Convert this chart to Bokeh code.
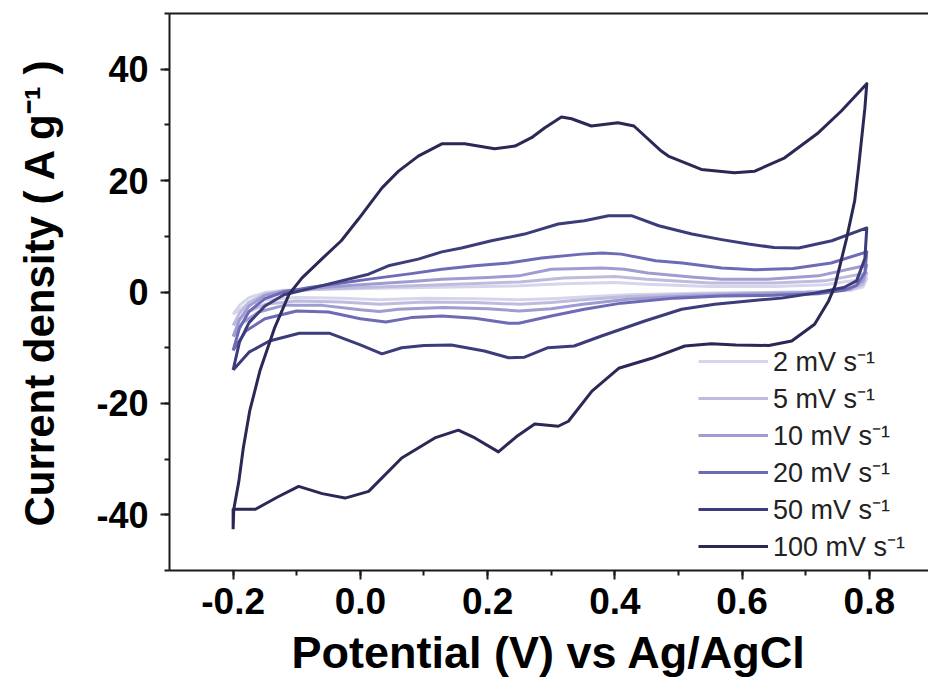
from bokeh.plotting import figure
from bokeh.models import LinearAxis, Range1d, Legend, LegendItem, SingleIntervalTicker, FixedTicker
from bokeh.embed import file_html
from bokeh.resources import INLINE

# ---- data: potential (V vs Ag/AgCl) and current density (A/g), closed CV loops ----
scan_labels = ["2 mV s⁻¹", "5 mV s⁻¹", "10 mV s⁻¹", "20 mV s⁻¹", "50 mV s⁻¹", "100 mV s⁻¹"]
colors = ["#d6d5ec", "#bdbcdf", "#9e9cd0", "#6d6bb5", "#3d3c7a", "#2a2956"]

v_2 = [-0.2, -0.19, -0.175, -0.15, -0.12, -0.05, 0.05, 0.15, 0.25, 0.32, 0.4, 0.45, 0.55, 0.65, 0.73, 0.796,
       0.79, 0.77, 0.7, 0.55, 0.42, 0.35, 0.3, 0.25, 0.18, 0.1, 0.03, -0.03, -0.1, -0.15, -0.18, -0.2]
i_2 = [-4.0, -2.4, -1.0, -0.1, 0.3, 0.5, 0.7, 0.9, 1.1, 1.5, 1.7, 1.4, 1.0, 1.0, 1.3, 2.4,
       0.9, 0.3, 0.0, -0.2, -0.5, -0.9, -1.2, -1.4, -1.2, -1.1, -1.4, -1.1, -1.0, -1.4, -2.4, -4.0]

v_5 = [-0.2, -0.19, -0.175, -0.15, -0.12, -0.05, 0.05, 0.15, 0.25, 0.32, 0.4, 0.45, 0.55, 0.65, 0.73, 0.796,
       0.79, 0.77, 0.7, 0.55, 0.42, 0.35, 0.3, 0.25, 0.18, 0.1, 0.03, -0.03, -0.1, -0.15, -0.18, -0.2]
i_5 = [-6.0, -3.8, -1.8, -0.4, 0.2, 0.6, 1.0, 1.4, 1.8, 2.5, 2.8, 2.3, 1.6, 1.6, 2.0, 3.4,
       1.4, 0.4, 0.0, -0.3, -0.8, -1.4, -1.9, -2.2, -1.9, -1.8, -2.2, -1.8, -1.6, -2.2, -3.8, -6.0]

v_10 = [-0.2, -0.19, -0.175, -0.15, -0.12, -0.05, 0.0, 0.08, 0.128, 0.2, 0.249, 0.3, 0.38, 0.415, 0.452, 0.52,
        0.568, 0.64, 0.72, 0.796,
        0.79, 0.77, 0.72, 0.6, 0.5, 0.42, 0.35, 0.3, 0.25, 0.2, 0.13, 0.06, 0.03, 0.0, -0.06, -0.12, -0.16,
        -0.185, -0.2]
i_10 = [-8.0, -5.0, -2.5, -0.6, 0.2, 0.9, 1.3, 1.9, 2.3, 2.6, 2.9, 4.1, 4.3, 4.1, 3.4, 2.7,
        2.3, 2.3, 2.9, 4.8,
        2.0, 0.6, -0.1, -0.4, -0.8, -1.3, -2.2, -3.0, -3.4, -3.0, -2.8, -3.1, -3.5, -3.2, -2.4, -2.4, -3.6,
        -5.5, -8.0]

v_20 = [-0.2, -0.19, -0.175, -0.15, -0.12, -0.08, -0.03, 0.02, 0.08, 0.128, 0.18, 0.233, 0.285, 0.348, 0.38,
        0.41, 0.464, 0.506, 0.568, 0.62, 0.68, 0.74, 0.796,
        0.793, 0.78, 0.76, 0.72, 0.65, 0.568, 0.494, 0.41, 0.352, 0.3, 0.249, 0.233, 0.18, 0.128, 0.08, 0.04,
        0.0, -0.05, -0.1, -0.15, -0.18, -0.2]
i_20 = [-10.5, -6.5, -3.5, -1.2, 0.0, 0.8, 1.6, 2.4, 3.3, 4.1, 4.7, 5.2, 6.1, 6.8, 7.0,
        6.8, 5.6, 5.2, 4.3, 4.0, 4.2, 5.2, 7.2,
        3.5, 1.2, 0.3, -0.3, -0.6, -0.7, -1.1, -2.0, -3.1, -4.3, -5.6, -5.6, -4.7, -4.3, -4.6, -5.4,
        -4.8, -3.6, -3.4, -4.8, -7.0, -10.5]

v_50 = [-0.2, -0.19, -0.175, -0.15, -0.12, -0.076, -0.03, 0.013, 0.044, 0.091, 0.128, 0.159, 0.206, 0.258,
        0.311, 0.352, 0.39, 0.426, 0.469, 0.521, 0.568, 0.61, 0.65, 0.689, 0.741, 0.796,
        0.793, 0.78, 0.76, 0.746, 0.714, 0.662, 0.61, 0.557, 0.505, 0.447, 0.379, 0.336, 0.295, 0.258, 0.233,
        0.195, 0.143, 0.1, 0.065, 0.034, 0.0, -0.049, -0.096, -0.143, -0.175, -0.2]
i_50 = [-14.0, -9.0, -5.5, -2.5, -0.5, 0.7, 2.0, 3.2, 4.7, 5.9, 7.2, 7.9, 9.2, 10.4,
        12.2, 12.8, 13.7, 13.7, 11.9, 10.4, 9.4, 8.6, 8.0, 7.9, 9.2, 11.5,
        6.0, 2.0, 0.8, 0.5, -0.2, -1.1, -1.6, -2.2, -3.1, -5.2, -7.9, -9.7, -10.0, -11.7, -11.8,
        -10.6, -9.5, -9.6, -10.0, -11.1, -9.5, -7.4, -7.4, -8.8, -10.8, -14.0]

v_100 = [-0.2, -0.199, -0.191, -0.184, -0.174, -0.158, -0.135, -0.112, -0.092, -0.06, -0.03, -0.003, 0.034,
         0.06, 0.091, 0.128, 0.164, 0.211, 0.243, 0.269, 0.29, 0.316, 0.332, 0.363, 0.405, 0.43, 0.473, 0.484,
         0.536, 0.588, 0.62, 0.667, 0.72, 0.756, 0.796,
         0.793, 0.783, 0.777, 0.764, 0.746, 0.736, 0.714, 0.678, 0.642, 0.59, 0.552, 0.51, 0.458, 0.406, 0.364,
         0.327, 0.311, 0.274, 0.245, 0.217, 0.18, 0.154, 0.117, 0.065, 0.013, -0.024, -0.06, -0.097, -0.13,
         -0.165, -0.2, -0.2]
i_100 = [-42.6, -39.0, -34.0, -28.0, -21.4, -14.2, -6.5, -0.4, 2.5, 6.0, 9.2, 13.1, 18.7,
         21.7, 24.4, 26.6, 26.6, 25.7, 26.2, 27.7, 29.5, 31.4, 31.1, 29.8, 30.4, 29.8, 25.3, 24.4,
         22.0, 21.4, 21.7, 24.1, 28.6, 32.5, 37.4,
         33.0, 22.3, 16.4, 9.5, 1.1, -1.6, -5.8, -8.8, -9.6, -9.5, -9.3, -9.7, -11.9, -13.7, -17.8,
         -23.2, -24.1, -23.7, -26.0, -28.7, -26.2, -24.8, -26.2, -29.8, -35.8, -37.0, -36.2, -34.9, -36.8,
         -39.0, -39.0, -42.6]

x_ticks = [-0.2, 0.0, 0.2, 0.4, 0.6, 0.8]
x_tick_labels = ["-0.2", "0.0", "0.2", "0.4", "0.6", "0.8"]
y_ticks = [-40, -20, 0, 20, 40]
y_tick_labels = ["-40", "-20", "0", "20", "40"]

curves = [(v_2, i_2), (v_5, i_5), (v_10, i_10), (v_20, i_20), (v_50, i_50), (v_100, i_100)]

FONT = "Liberation Sans"

p = figure(width=928, height=684, x_range=Range1d(-0.3, 0.893), y_range=Range1d(-50, 50),
           output_backend="svg", toolbar_location=None,
           min_border_left=169, min_border_right=0, min_border_top=13, min_border_bottom=114)
p.outline_line_color = None
p.grid.visible = False
p.background_fill_color = "white"

renderers = []
for (vx, iy), col in zip(curves, colors):
    r = p.line(vx, iy, line_color=col, line_width=3, line_join="round")
    renderers.append(r)

for ax in (p.xaxis[0], p.yaxis[0]):
    ax.axis_line_width = 2
    ax.axis_line_color = "#1a1a1a"
    ax.major_tick_line_width = 2
    ax.minor_tick_line_width = 2
    ax.major_tick_line_color = "#1a1a1a"
    ax.minor_tick_line_color = "#1a1a1a"
    ax.major_tick_in = 0
    ax.major_tick_out = 9
    ax.minor_tick_in = 0
    ax.minor_tick_out = 5
    ax.major_label_text_font = FONT
    ax.major_label_text_font_style = "bold"
    ax.major_label_text_color = "black"
    ax.axis_label_text_font = FONT
    ax.axis_label_text_font_style = "bold"
    ax.axis_label_text_color = "black"

p.xaxis.ticker = SingleIntervalTicker(interval=0.2, num_minor_ticks=2)
p.yaxis.ticker = SingleIntervalTicker(interval=20, num_minor_ticks=2)
p.xaxis.major_label_overrides = dict(zip(x_ticks, x_tick_labels))
p.yaxis.major_label_overrides = dict(zip(y_ticks, y_tick_labels))
p.xaxis.major_label_text_font_size = "37px"
p.yaxis.major_label_text_font_size = "36px"
p.xaxis.major_label_standoff = 8
p.yaxis.major_label_standoff = 12
p.xaxis.axis_label = "Potential (V) vs Ag/AgCl"
p.xaxis.axis_label_text_font_size = "45px"
p.xaxis.axis_label_standoff = 10
p.yaxis.axis_label = "Current density ( A g⁻¹ )"
p.yaxis.axis_label_text_font_size = "42px"
p.yaxis.axis_label_standoff = 30

top = LinearAxis(ticker=FixedTicker(ticks=[]), major_tick_in=0, major_tick_out=0,
                 minor_tick_in=0, minor_tick_out=0, axis_line_width=2, axis_line_color="#1a1a1a")
p.add_layout(top, "above")

legend = Legend(items=[LegendItem(label=lab, renderers=[r]) for lab, r in zip(scan_labels, renderers)],
                location=(529, 6), border_line_color=None, background_fill_alpha=0,
                label_text_font=FONT, label_text_font_size="27px", label_text_color="#222222",
                glyph_width=70, glyph_height=30, label_height=30, spacing=0, padding=0, margin=0,
                label_standoff=5)
p.add_layout(legend)

open("out.html", "w").write(file_html(p, INLINE))
